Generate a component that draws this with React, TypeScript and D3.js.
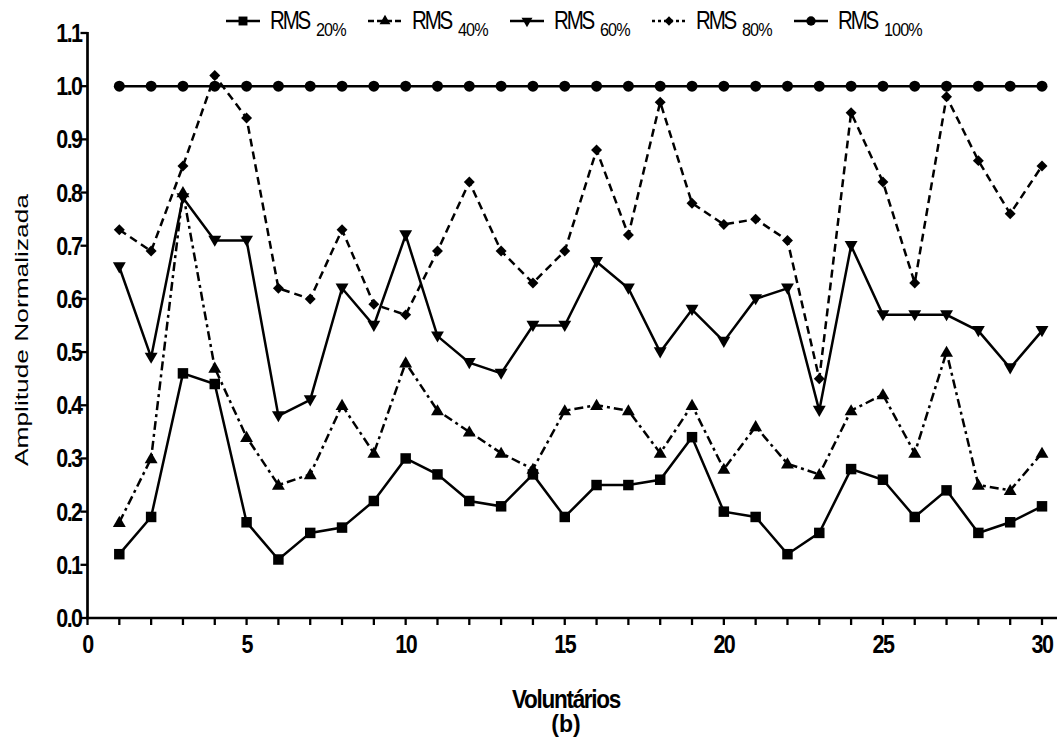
import React from "react";
import * as d3 from "d3";

const voluntarios = d3.range(1, 31);
const rms20 = [0.12, 0.19, 0.46, 0.44, 0.18, 0.11, 0.16, 0.17, 0.22, 0.30, 0.27, 0.22, 0.21, 0.27, 0.19, 0.25, 0.25, 0.26, 0.34, 0.20, 0.19, 0.12, 0.16, 0.28, 0.26, 0.19, 0.24, 0.16, 0.18, 0.21];
const rms40 = [0.18, 0.30, 0.80, 0.47, 0.34, 0.25, 0.27, 0.40, 0.31, 0.48, 0.39, 0.35, 0.31, 0.28, 0.39, 0.40, 0.39, 0.31, 0.40, 0.28, 0.36, 0.29, 0.27, 0.39, 0.42, 0.31, 0.50, 0.25, 0.24, 0.31];
const rms60 = [0.66, 0.49, 0.79, 0.71, 0.71, 0.38, 0.41, 0.62, 0.55, 0.72, 0.53, 0.48, 0.46, 0.55, 0.55, 0.67, 0.62, 0.50, 0.58, 0.52, 0.60, 0.62, 0.39, 0.70, 0.57, 0.57, 0.57, 0.54, 0.47, 0.54];
const rms80 = [0.73, 0.69, 0.85, 1.02, 0.94, 0.62, 0.60, 0.73, 0.59, 0.57, 0.69, 0.82, 0.69, 0.63, 0.69, 0.88, 0.72, 0.97, 0.78, 0.74, 0.75, 0.71, 0.45, 0.95, 0.82, 0.63, 0.98, 0.86, 0.76, 0.85];
const rms100 = [1, 1, 1, 1, 1, 1, 1, 1, 1, 1, 1, 1, 1, 1, 1, 1, 1, 1, 1, 1, 1, 1, 1, 1, 1, 1, 1, 1, 1, 1];

const seriesLabels = ["20%", "40%", "60%", "80%", "100%"];
const xTicks = d3.range(0, 31);
const xLabelTicks = [0, 5, 10, 15, 20, 25, 30];
const yTicks = d3.range(0, 12).map((d) => +(d / 10).toFixed(1));

const FONT = "'Liberation Sans', Arial, Helvetica, sans-serif";

type SymKind = "square" | "triUp" | "triDown" | "diamond" | "circle";

const series: { name: string; values: number[]; sym: SymKind; dash: string | undefined }[] = [
  { name: seriesLabels[0], values: rms20, sym: "square", dash: undefined },
  { name: seriesLabels[1], values: rms40, sym: "triUp", dash: "9,4,3,4" },
  { name: seriesLabels[2], values: rms60, sym: "triDown", dash: undefined },
  { name: seriesLabels[3], values: rms80, sym: "diamond", dash: "8,5" },
  { name: seriesLabels[4], values: rms100, sym: "circle", dash: undefined },
];

function symPath(kind: SymKind): string {
  switch (kind) {
    case "square":
      return d3.symbol(d3.symbolSquare, 110)()!;
    case "triUp":
      return d3.symbol(d3.symbolTriangle, 72)()!;
    case "triDown":
      return d3.symbol(d3.symbolTriangle, 72)()!;
    case "diamond":
      return d3.symbol(d3.symbolSquare, 60)()!;
    case "circle":
      return d3.symbol(d3.symbolCircle, 95)()!;
  }
}

function symRot(kind: SymKind): number {
  if (kind === "triDown") return 180;
  if (kind === "diamond") return 45;
  return 0;
}

export default function App() {
  const W = 1062;
  const H = 749;
  const x = d3.scaleLinear().domain([0, 30]).range([87.5, 1042]);
  const y = d3.scaleLinear().domain([0, 1.1]).range([618, 33]);
  const line = d3
    .line<number>()
    .x((_, i) => x(voluntarios[i]))
    .y((d) => y(d));

  const legendX0 = 243;
  const legendStep = 142;
  const legendY = 21;

  return (
    <svg
      width={W}
      height={H}
      viewBox={`0 0 ${W} ${H}`}
      style={{ position: "absolute", left: 0, top: 0, background: "#fff" }}
    >
      <rect x={0} y={0} width={W} height={H} fill="#fff" />
      {/* series lines */}
      {series.map((s) => (
        <path
          key={"l" + s.name}
          d={line(s.values)!}
          fill="none"
          stroke="#000"
          strokeWidth={2.5}
          strokeDasharray={s.dash}
          strokeLinejoin="miter"
        />
      ))}
      {/* markers */}
      {series.map((s) =>
        s.values.map((v, i) => (
          <path
            key={"m" + s.name + i}
            d={symPath(s.sym)}
            transform={`translate(${x(voluntarios[i])},${y(v) + (s.sym === "triUp" ? 1 : s.sym === "triDown" ? -1 : 0)}) rotate(${symRot(s.sym)})`}
            fill="#000"
          />
        ))
      )}
      {/* axes */}
      <line x1={x(0)} x2={x(0)} y1={y(1.1) - 1} y2={y(0) + 1.3} stroke="#000" strokeWidth={2.7} />
      <line x1={x(0) - 1.3} x2={1057} y1={y(0)} y2={y(0)} stroke="#000" strokeWidth={2.7} />
      {yTicks.map((t) => (
        <g key={"yt" + t}>
          <line x1={x(0) - 7} x2={x(0)} y1={y(t)} y2={y(t)} stroke="#000" strokeWidth={2.3} />
          <g transform={`translate(${x(0) - 6},${y(t)}) scale(0.86,1)`}>
            <text
              dy="0.36em"
              textAnchor="end"
              fontFamily={FONT}
              fontWeight="bold"
              fontSize={25}
              letterSpacing={-1.8}
            >
              {t.toFixed(1)}
            </text>
          </g>
        </g>
      ))}
      {xTicks.map((t) => (
        <line key={"xt" + t} x1={x(t)} x2={x(t)} y1={y(0)} y2={y(0) + 7} stroke="#000" strokeWidth={2.3} />
      ))}
      {xLabelTicks.map((t) => (
        <g key={"xl" + t} transform={`translate(${x(t)},653) scale(0.86,1)`}>
          <text
            textAnchor="middle"
            fontFamily={FONT}
            fontWeight="bold"
            fontSize={25}
            letterSpacing={-1.8}
          >
            {t}
          </text>
        </g>
      ))}
      {/* axis titles */}
      <text
        transform="translate(28,330) rotate(-90)"
        textAnchor="middle"
        fontFamily={FONT}
        fontSize={19}
        textLength={272}
        lengthAdjust="spacingAndGlyphs"
      >
        Amplitude Normalizada
      </text>
      <g transform="translate(566,708) scale(0.9,1)">
        <text textAnchor="middle" fontFamily={FONT} fontWeight="bold" fontSize={25} letterSpacing={-1.4}>
          Voluntários
        </text>
      </g>
      <text x={566} y={732} textAnchor="middle" fontFamily={FONT} fontWeight="bold" fontSize={23}>
        (b)
      </text>
      {/* legend */}
      {series.map((s, i) => {
        const cx = legendX0 + legendStep * i;
        return (
          <g key={"lg" + s.name}>
            <line
              x1={cx - 17}
              x2={cx + 17}
              y1={legendY}
              y2={legendY}
              stroke="#000"
              strokeWidth={2.5}
              strokeDasharray={s.dash ? (s.sym === "diamond" ? "3,3" : "6,3") : undefined}
            />
            <path
              d={symPath(s.sym)}
              transform={`translate(${cx},${legendY}) rotate(${symRot(s.sym)}) scale(0.85)`}
              fill="#000"
            />
            <g transform={`translate(${cx + 27},29) scale(0.82,1)`}>
              <text fontFamily={FONT} fontSize={25} letterSpacing={-2.6}>
                RMS
              </text>
            </g>
            <g transform={`translate(${cx + 73},36) scale(0.9,1)`}>
              <text fontFamily={FONT} fontSize={18} letterSpacing={-1}>
                {s.name}
              </text>
            </g>
          </g>
        );
      })}
    </svg>
  );
}
